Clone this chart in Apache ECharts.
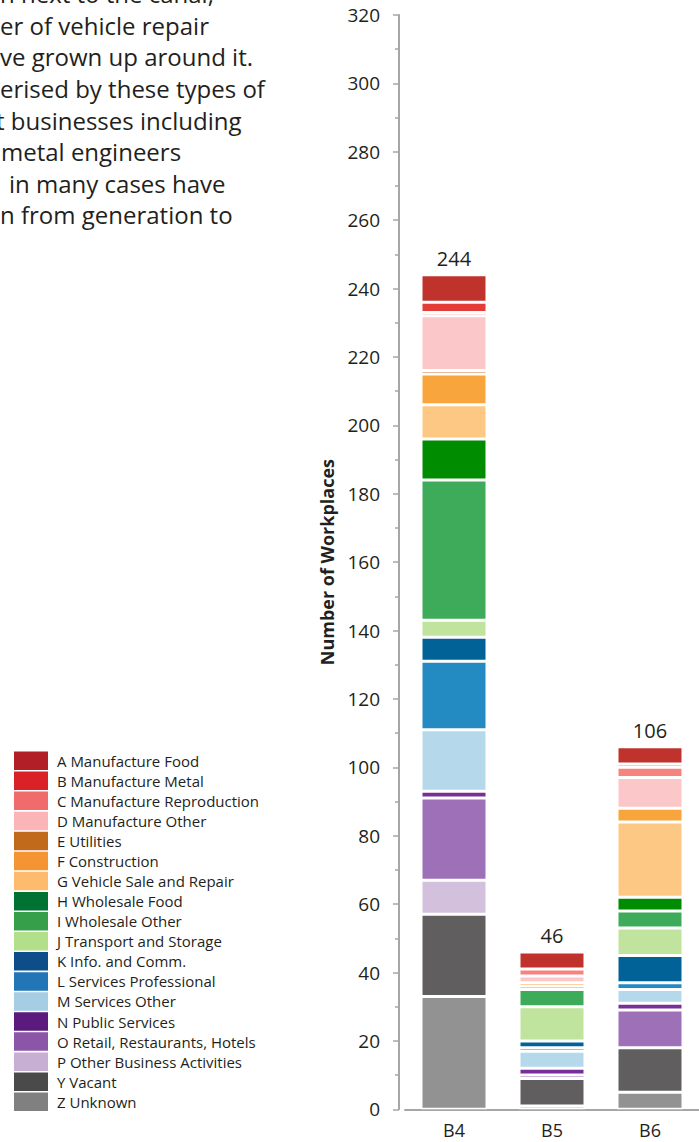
<!DOCTYPE html>
<html>
<head>
<meta charset="utf-8">
<script src="https://cdn.jsdelivr.net/npm/echarts/dist/echarts.min.js"></script>
<style>
  html, body { margin: 0; padding: 0; background: #fff; }
  #chart { width: 699px; height: 1142px; }
</style>
</head>
<body>
<div id="chart"></div>
<script>
// Workplaces by activity class for blocks B4, B5 and B6
const categories = ['B4', 'B5', 'B6'];

const classNames = [
  'A Manufacture Food', 'B Manufacture Metal', 'C Manufacture Reproduction',
  'D Manufacture Other', 'E Utilities', 'F Construction', 'G Vehicle Sale and Repair',
  'H Wholesale Food', 'I Wholesale Other', 'J Transport and Storage', 'K Info. and Comm.',
  'L Services Professional', 'M Services Other', 'N Public Services',
  'O Retail, Restaurants, Hotels', 'P Other Business Activities', 'Y Vacant', 'Z Unknown'
];

const aManufactureFood      = [8, 5, 5];
const bManufactureMetal     = [3, 0, 1];
const cManufactureRepro     = [1, 2, 3];
const dManufactureOther     = [16, 2, 9];
const eUtilities            = [1, 0, 0];
const fConstruction         = [9, 1, 4];
const gVehicleSaleRepair    = [10, 0, 22];
const hWholesaleFood        = [12, 1, 4];
const iWholesaleOther       = [41, 5, 5];
const jTransportStorage     = [5, 10, 8];
const kInfoComm             = [7, 2, 8];
const lServicesProfessional = [20, 1, 2];
const mServicesOther        = [18, 5, 4];
const nPublicServices       = [2, 2, 2];
const oRetailRestHotels     = [24, 1, 11];
const pOtherBusiness        = [10, 0, 0];
const yVacant               = [24, 8, 13];
const zUnknown              = [33, 1, 5];

const yTickLabels = ['0','20','40','60','80','100','120','140','160','180','200','220','240','260','280','300','320'];

// Fill colours used in the bars, and the slightly different swatches in the key
const barColors = [
  '#c0332d', '#e33b35', '#f6837d', '#fcc7c8', '#c9782a', '#f9a53e', '#fdc883',
  '#008c00', '#3eab5a', '#c0e39d', '#016297', '#238bc2', '#b5d8ea', '#772e97',
  '#9e70b8', '#d3c0dd', '#605e5f', '#919291'
];
const keyColors = [
  '#b21f26', '#db2128', '#f06b6b', '#fbb5b7', '#c26a1b', '#f59433', '#fcbb6d',
  '#007232', '#35a049', '#b3de8a', '#0d4d8a', '#2276b6', '#a5cde3', '#5b1a7e',
  '#8b56a8', '#c7aed3', '#4a4a4a', '#808080'
];

const classValues = [
  aManufactureFood, bManufactureMetal, cManufactureRepro, dManufactureOther, eUtilities,
  fConstruction, gVehicleSaleRepair, hWholesaleFood, iWholesaleOther, jTransportStorage,
  kInfoComm, lServicesProfessional, mServicesOther, nPublicServices, oRetailRestHotels,
  pOtherBusiness, yVacant, zUnknown
];

const totals = categories.map((_, i) => classValues.reduce((s, arr) => s + arr[i], 0));

// Paragraph beside the chart (its left part runs past the page edge)
const paragraphLines = [
  'n next to the canal,',
  'er of vehicle repair',
  've grown up around it.',
  'erised by these types of',
  't businesses including',
  'metal engineers',
  'in many cases have',
  'n from generation to'
];
const paragraphX = [0, 0, 0, 0, -4, 1, 9, 0];

const textColor = '#231f20';
const fontFamily = '"Open Sans", "Noto Sans", sans-serif';

// Stack from the bottom: Z first, A last
const series = [];
for (let k = classNames.length - 1; k >= 0; k--) {
  const s = {
    name: classNames[k],
    type: 'bar',
    stack: 'workplaces',
    barWidth: 66,
    data: classValues[k],
    itemStyle: { color: barColors[k], borderColor: '#ffffff', borderWidth: 1.5 },
    emphasis: { disabled: true }
  };
  if (k === 0) {
    s.label = {
      show: true,
      position: 'top',
      distance: 6,
      color: textColor,
      fontSize: 20,
      fontFamily: fontFamily,
      formatter: p => String(totals[p.dataIndex])
    };
  }
  series.push(s);
}

const graphic = paragraphLines.map((line, i) => ({
  type: 'text',
  x: paragraphX[i],
  y: 5.7 + i * 31.6,
  silent: true,
  style: {
    text: line,
    fill: textColor,
    fontSize: 24,
    fontFamily: fontFamily,
    textAlign: 'left',
    verticalAlign: 'bottom'
  }
}));

const chart = echarts.init(document.getElementById('chart'), null, { renderer: 'svg' });
chart.setOption({
  animation: false,
  backgroundColor: '#ffffff',
  textStyle: { fontFamily: fontFamily, color: textColor },
  graphic: graphic,
  legend: {
    orient: 'vertical',
    left: 14,
    top: 751.5,
    padding: 0,
    itemWidth: 34,
    itemHeight: 18.5,
    itemGap: 1.56,
    icon: 'rect',
    selectedMode: false,
    textStyle: { fontSize: 15, color: textColor, fontFamily: fontFamily, padding: [0, 0, 0, 4] },
    data: classNames.map((n, k) => ({ name: n, itemStyle: { color: keyColors[k], borderWidth: 0 } }))
  },
  grid: { left: 405, top: 14.9, width: 301.4, bottom: 32.7, containLabel: false },
  xAxis: {
    type: 'category',
    data: categories,
    axisLine: { lineStyle: { color: '#a6a6a6', width: 2 } },
    axisTick: { show: false },
    axisLabel: { color: textColor, fontSize: 18, margin: 12, fontFamily: fontFamily }
  },
  yAxis: {
    type: 'value',
    min: 0,
    max: 320,
    interval: 20,
    offset: 6,
    name: 'Number of Workplaces',
    nameLocation: 'middle',
    nameGap: 63,
    nameTextStyle: { fontSize: 18, fontWeight: 'bold', color: textColor, fontFamily: fontFamily },
    axisLine: { show: true, lineStyle: { color: '#a6a6a6', width: 2 } },
    axisTick: { show: true, length: 6, lineStyle: { color: '#a6a6a6', width: 1.5 } },
    minorTick: { show: true, splitNumber: 2, length: 4, lineStyle: { color: '#a6a6a6', width: 1.5 } },
    splitLine: { show: false },
    axisLabel: {
      color: textColor,
      fontSize: 19,
      margin: 19,
      fontFamily: fontFamily,
      formatter: v => yTickLabels[Math.round(v / 20)]
    }
  },
  series: series
});
</script>
</body>
</html>
